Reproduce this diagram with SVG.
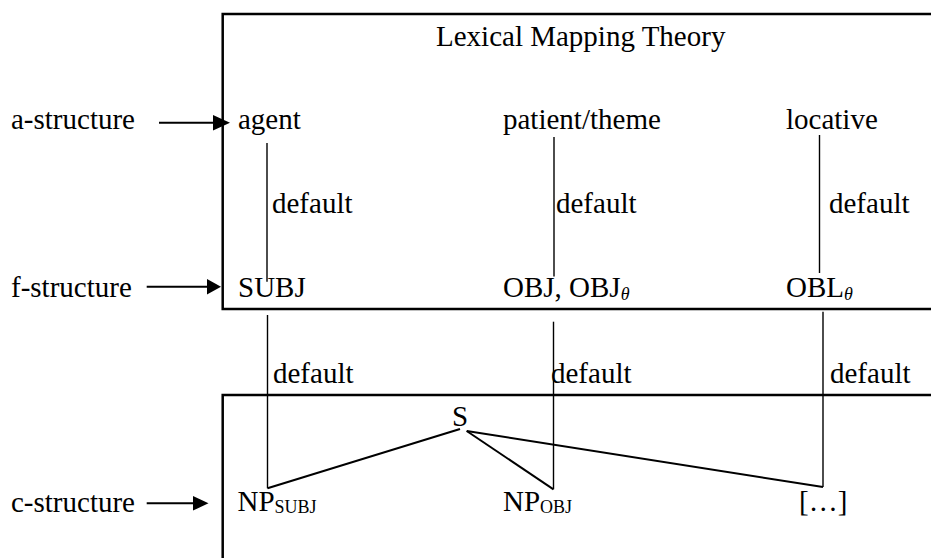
<svg xmlns="http://www.w3.org/2000/svg" width="931" height="558" viewBox="0 0 931 558">
<style>
text{font-family:"Liberation Serif","Times New Roman",serif;font-size:29px;fill:#000}
.sub{font-size:18px}
.th{font-size:18px;font-style:italic}
.box{fill:none;stroke:#000;stroke-width:2.5}
.v{stroke:#000;stroke-width:1.4;fill:none}
.t{stroke:#000;stroke-width:2;fill:none}
.ar{stroke:#000;stroke-width:2;fill:none}
</style>
<g id="lmt-box"><rect class="box" x="222.7" y="14" width="730" height="295"/>
<text x="436" y="46">Lexical Mapping Theory</text></g>
<g id="c-box"><rect class="box" x="222.7" y="395" width="730" height="200"/></g>
<g id="a-structure"><text x="11" y="129">a-structure</text></g>
<g id="f-structure"><text x="11" y="297">f-structure</text></g>
<g id="c-structure"><text x="11" y="512">c-structure</text></g>
<g id="agent"><text x="238" y="129">agent</text></g>
<g id="patient"><text x="503" y="129">patient/theme</text></g>
<g id="locative"><text x="786" y="129">locative</text></g>
<g id="subj"><text x="238" y="297">SUBJ</text></g>
<g id="obj"><text x="503" y="297">OBJ, OBJ<tspan class="th" dy="3">θ</tspan></text></g>
<g id="obl"><text x="786" y="297">OBL<tspan class="th" dy="3">θ</tspan></text></g>
<g id="s"><text x="452" y="426">S</text></g>
<g id="np-subj"><text x="237.5" y="511">NP<tspan class="sub" dy="2">SUBJ</tspan></text></g>
<g id="np-obj"><text x="503" y="511">NP<tspan class="sub" dy="2">OBJ</tspan></text></g>
<g id="etc"><text x="799" y="511">[…]</text></g>
<g id="connectors">
<line class="ar" x1="159" y1="122.7" x2="215" y2="122.7"/>
<polygon points="213,115 230,122.7 213,130.4"/>
<line class="ar" x1="146.7" y1="286.7" x2="209" y2="286.7"/>
<polygon points="207,279 221,286.7 207,294.4"/>
<line class="ar" x1="146.7" y1="503.3" x2="195" y2="503.3"/>
<polygon points="193,496 208.5,503.3 193,510.6"/>
<line class="v" x1="267" y1="143" x2="267" y2="281.7"/>
<line class="v" x1="554" y1="137" x2="554" y2="276.5"/>
<line class="v" x1="819.5" y1="135" x2="819.5" y2="273"/>
<line class="v" x1="267.5" y1="315" x2="267.5" y2="488.3"/>
<line class="v" x1="553.5" y1="321.7" x2="553.5" y2="489.3"/>
<line class="v" x1="823" y1="311.7" x2="823" y2="487"/>
<line class="t" x1="460" y1="429" x2="267.5" y2="488.3"/>
<line class="t" x1="466.7" y1="431" x2="553.5" y2="489.3"/>
<line class="t" x1="466.7" y1="431" x2="823" y2="487"/>
<text x="272" y="213">default</text>
<text x="556" y="213">default</text>
<text x="829" y="213">default</text>
<text x="273" y="383">default</text>
<text x="551" y="383">default</text>
<text x="830" y="383">default</text>
</g>
</svg>
